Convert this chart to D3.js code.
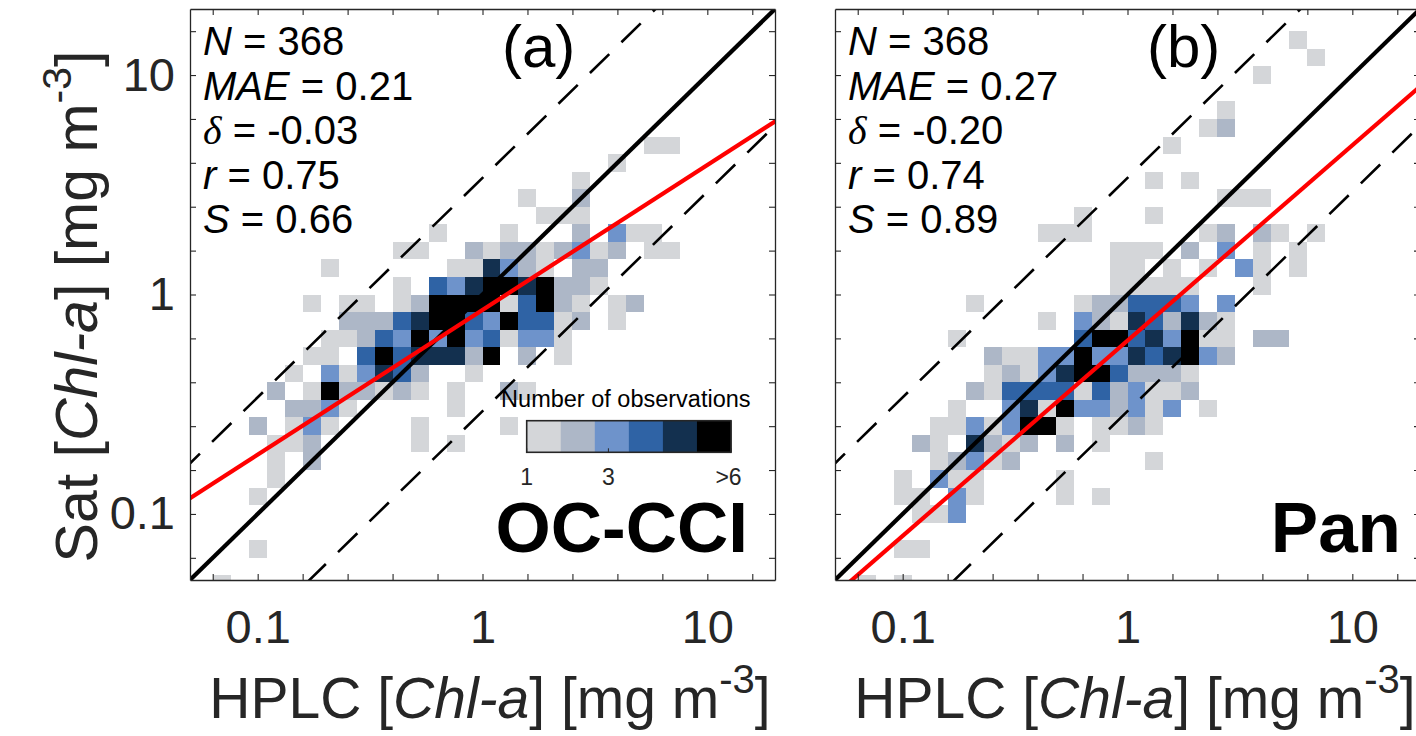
<!DOCTYPE html>
<html><head><meta charset="utf-8">
<script src="https://cdn.jsdelivr.net/npm/d3@7"></script>
<style>
body{margin:0;background:#fff;}
svg{display:block;}
text{font-family:"Liberation Sans",Arial,Helvetica,sans-serif;}
</style>
</head><body>
<svg id="chart" width="1416" height="736"></svg>
<script>
// ---------------- data ----------------
const axisDomain = [0.05, 20];
const binStepLog10 = 0.08;               // histogram bin width in log10 units
const tickExponents = d3.range(-6, 7).map(k => k * 0.2);
const labeledTicks = [0.1, 1, 10];
const levelColors = ["#d4d6d9", "#adb7c7", "#6e93cb", "#2f63a5", "#13304f", "#000000"];
const colorbarTicks = [1, 3, 6];
const colorbarTickLabels = ["1", "3", ">6"];
const panelLetters = ["(a)", "(b)"];
const productNames = ["OC-CCI", "Pan"];
const statN = ["368", "368"];
const statMAE = ["0.21", "0.27"];
const statDelta = ["-0.03", "-0.20"];
const statR = ["0.75", "0.74"];
const statS = ["0.66", "0.89"];
const fitSlope = [0.66, 0.89];
const fitIntercept = [-0.07, -0.21];   // log10 intercept
const dashFactor = 3.4;

// bins: [HPLC bin index, Sat bin index, count level]  (bin k spans 10^(k*0.08) .. 10^((k+1)*0.08))
const ocCells = [
[9,8,1],[10,8,1],[7,7,1],[5,6,1],[2,5,1],[5,5,2],[3,4,1],[4,4,1],[5,4,1],
[-3,3,1],[1,3,1],[5,3,2],[7,3,3],[8,3,1],[9,3,1],
[-5,2,1],[-4,2,1],[-1,2,2],[0,2,1],[1,2,2],[2,2,2],[3,2,1],[4,2,2],[5,2,3],[6,2,1],[7,2,2],[9,2,1],[10,2,1],
[-9,1,1],[-2,1,1],[-1,1,1],[0,1,5],[1,1,3],[2,1,2],[3,1,1],[5,1,2],[6,1,2],
[-5,0,1],[-3,0,4],[-2,0,3],[-1,0,5],[0,0,6],[1,0,6],[2,0,5],[3,0,6],[4,0,2],[5,0,2],[6,0,1],
[-10,-1,1],[-8,-1,1],[-7,-1,1],[-5,-1,1],[-4,-1,2],[-3,-1,6],[-2,-1,6],[-1,-1,6],[0,-1,6],[1,-1,1],[2,-1,4],[3,-1,6],[4,-1,2],[5,-1,1],[7,-1,1],[8,-1,2],
[-8,-2,2],[-7,-2,2],[-6,-2,2],[-5,-2,4],[-4,-2,5],[-3,-2,6],[-2,-2,6],[-1,-2,4],[0,-2,3],[1,-2,6],[2,-2,4],[3,-2,4],[4,-2,1],[5,-2,2],[7,-2,1],
[-9,-3,1],[-8,-3,1],[-7,-3,2],[-6,-3,4],[-5,-3,3],[-4,-3,6],[-3,-3,3],[-2,-3,6],[-1,-3,3],[0,-3,4],[1,-3,1],[2,-3,3],[3,-3,3],[4,-3,1],
[-10,-4,1],[-9,-4,1],[-7,-4,4],[-6,-4,6],[-5,-4,4],[-4,-4,5],[-3,-4,5],[-2,-4,5],[-1,-4,2],[0,-4,6],[2,-4,2],[4,-4,1],
[-11,-5,1],[-9,-5,3],[-8,-5,1],[-7,-5,3],[-6,-5,5],[-5,-5,4],[-4,-5,2],[-1,-5,1],
[-12,-6,2],[-10,-6,1],[-9,-6,6],[-8,-6,2],[-7,-6,2],[-6,-6,1],[-5,-6,2],[-4,-6,1],[-2,-6,1],[1,-6,2],[2,-6,1],
[-11,-7,2],[-10,-7,2],[-9,-7,3],[-8,-7,1],[-2,-7,1],
[-13,-8,2],[-11,-8,1],[-10,-8,3],[-9,-8,1],[-4,-8,1],[1,-8,1],
[-12,-9,1],[-11,-9,1],[-10,-9,2],[-4,-9,1],[-2,-9,1],
[-12,-10,1],[-10,-10,2],[-12,-11,1],[-13,-12,1],[-13,-15,1],[-15,-17,1]
];
const panCells = [
[9,14,1],[10,13,1],[7,12,1],[5,10,1],[4,9,1],[5,9,2],[2,8,1],[1,6,1],[3,6,1],
[5,5,1],[6,5,1],[7,5,1],[-3,4,1],[1,4,1],
[-5,3,1],[-4,3,1],[-3,3,1],[4,3,1],[5,3,2],[7,3,2],[8,3,1],[10,3,1],
[-1,2,1],[0,2,1],[1,2,1],[3,2,2],[5,2,3],[7,2,1],[9,2,1],
[-1,1,1],[0,1,1],[2,1,1],[4,1,1],[6,1,3],[7,1,1],[9,1,1],
[-1,0,1],[0,0,1],[1,0,1],[2,0,1],[3,0,1],[7,0,1],
[-9,-1,1],[-3,-1,1],[-2,-1,2],[-1,-1,2],[0,-1,4],[1,-1,4],[2,-1,4],[3,-1,3],[5,-1,3],
[-5,-2,1],[-3,-2,3],[-2,-2,2],[-1,-2,1],[0,-2,5],[1,-2,4],[2,-2,2],[3,-2,5],[4,-2,2],[5,-2,1],
[-10,-3,1],[-3,-3,4],[-2,-3,6],[-1,-3,6],[0,-3,4],[1,-3,5],[2,-3,3],[3,-3,6],[4,-3,1],[5,-3,1],[7,-3,2],[8,-3,2],
[-8,-4,2],[-7,-4,1],[-6,-4,1],[-5,-4,3],[-4,-4,3],[-3,-4,6],[-2,-4,3],[-1,-4,3],[0,-4,5],[1,-4,4],[2,-4,5],[3,-4,6],[4,-4,3],[5,-4,2],
[-8,-5,1],[-7,-5,2],[-6,-5,1],[-5,-5,3],[-4,-5,5],[-3,-5,6],[-2,-5,6],[-1,-5,4],[0,-5,2],[1,-5,2],[2,-5,2],[3,-5,1],
[-9,-6,2],[-8,-6,1],[-7,-6,4],[-6,-6,4],[-5,-6,4],[-4,-6,4],[-3,-6,1],[-2,-6,4],[-1,-6,2],[0,-6,3],[1,-6,1],[2,-6,1],[3,-6,2],
[-10,-7,1],[-7,-7,3],[-6,-7,5],[-5,-7,1],[-4,-7,6],[-3,-7,3],[-2,-7,3],[-1,-7,2],[0,-7,3],[1,-7,1],[2,-7,3],[4,-7,1],
[-11,-8,1],[-10,-8,1],[-9,-8,3],[-8,-8,1],[-7,-8,3],[-6,-8,6],[-5,-8,6],[-4,-8,1],[-2,-8,1],[-1,-8,1],[0,-8,2],[1,-8,1],
[-12,-9,2],[-11,-9,1],[-9,-9,5],[-8,-9,2],[-7,-9,1],[-6,-9,2],[-4,-9,2],[-2,-9,1],
[-11,-10,1],[-10,-10,2],[-9,-10,3],[-8,-10,1],[-7,-10,2],[1,-10,1],
[-13,-11,1],[-11,-11,3],[-10,-11,1],[-9,-11,1],[-4,-11,1],
[-13,-12,1],[-12,-12,1],[-10,-12,3],[-9,-12,1],[-4,-12,1],[-2,-12,1],
[-12,-13,1],[-11,-13,1],[-10,-13,3],[-13,-15,1],[-12,-15,1],[-15,-17,1],[-13,-17,1]
];
const panelCells = [ocCells, panCells];

// ---------------- layout ----------------
const plotW = 585, plotH = 571, plotTop = 9;
const panelLeft = [190, 835];
const axisColor = "#262626";

const svg = d3.select("#chart");
const x = d3.scaleLog().domain(axisDomain).range([0, plotW]);
const y = d3.scaleLog().domain(axisDomain).range([plotH, 0]);
const binEdge = k => Math.pow(10, k * binStepLog10);
const tickValues = tickExponents.map(e => Math.pow(10, e));
const fmt = v => { const m = labeledTicks.find(t => Math.abs(Math.log10(t) - Math.log10(v)) < 1e-6); return m === undefined ? "" : String(m); };

function unitLabel(sel, lead, supSize, supDy) {
  sel.append("tspan").text(lead + " [");
  sel.append("tspan").attr("font-style", "italic").text("Chl-a");
  sel.append("tspan").text("] [mg m");
  sel.append("tspan").attr("font-size", supSize).attr("dy", -supDy).text("-3");
  sel.append("tspan").attr("dy", supDy).text("]");
}

panelLeft.forEach((left, p) => {
  const g = svg.append("g").attr("transform", `translate(${left},${plotTop})`);
  const clipId = "clip" + p;
  g.append("clipPath").attr("id", clipId).append("rect").attr("width", plotW).attr("height", plotH);
  const plot = g.append("g").attr("clip-path", `url(#${clipId})`);

  // histogram cells
  plot.selectAll("rect.cell").data(panelCells[p]).join("rect")
    .attr("class", "cell")
    .attr("x", d => x(binEdge(d[0])))
    .attr("width", d => x(binEdge(d[0] + 1)) - x(binEdge(d[0])))
    .attr("y", d => y(binEdge(d[1] + 1)))
    .attr("height", d => y(binEdge(d[1])) - y(binEdge(d[1] + 1)))
    .attr("fill", d => levelColors[d[2] - 1])
    .attr("shape-rendering", "crispEdges");

  const line = d3.line().x(d => x(d[0])).y(d => y(d[1]));
  const [a, b] = axisDomain;
  // dashed envelopes
  [dashFactor, 1 / dashFactor].forEach(f => {
    plot.append("path").attr("d", line([[a / 4, a / 4 * f], [b * 4, b * 4 * f]]))
      .attr("fill", "none").attr("stroke", "#000").attr("stroke-width", 2.6)
      .attr("stroke-dasharray", "27,17");
  });
  // 1:1
  plot.append("path").attr("d", line([[a, a], [b, b]]))
    .attr("fill", "none").attr("stroke", "#000").attr("stroke-width", 4.2);
  // regression
  const fit = v => Math.pow(10, fitIntercept[p]) * Math.pow(v, fitSlope[p]);
  plot.append("path").attr("d", line([[a / 2, fit(a / 2)], [b * 2, fit(b * 2)]]))
    .attr("fill", "none").attr("stroke", "#ff0000").attr("stroke-width", 4.2);

  // axes
  const styleAxis = sel => { sel.select(".domain").attr("stroke", axisColor).attr("stroke-width", 1.3);
    sel.selectAll(".tick line").attr("stroke", axisColor).attr("stroke-width", 1.1);
    sel.selectAll(".tick text").attr("fill", axisColor).attr("font-size", 47)
       .attr("font-family", '"Liberation Sans",Arial,sans-serif'); };
  g.append("g").attr("transform", `translate(0,${plotH})`)
    .call(d3.axisBottom(x).tickValues(tickValues).tickFormat(fmt).tickSize(-6).tickSizeOuter(0).tickPadding(30))
    .call(styleAxis);
  g.append("g").call(d3.axisTop(x).tickValues(tickValues).tickFormat(() => null).tickSize(-6).tickSizeOuter(0)).call(styleAxis);
  g.append("g").call(d3.axisLeft(y).tickValues(tickValues).tickFormat(p === 0 ? fmt : () => null).tickSize(-6).tickSizeOuter(0).tickPadding(15))
    .call(styleAxis);
  g.append("g").attr("transform", `translate(${plotW},0)`)
    .call(d3.axisRight(y).tickValues(tickValues).tickFormat(() => null).tickSize(-6).tickSizeOuter(0)).call(styleAxis);
  g.selectAll(".tick text").filter(function(){ return this.textContent === ""; }).remove();

  // stats
  const statsLines = [
    [["N", true], [" = " + statN[p], false]],
    [["MAE", true], [" = " + statMAE[p], false]],
    [["δ", "serif"], [" = " + statDelta[p], false]],
    [["r", true], [" = " + statR[p], false]],
    [["S", true], [" = " + statS[p], false]]
  ];
  statsLines.forEach((parts, k) => {
    const t = g.append("text").attr("x", 13).attr("y", 46 + k * 44.5).attr("font-size", 40).attr("fill", "#000");
    parts.forEach(([s, it]) => {
      const ts = t.append("tspan").text(s);
      if (it === true) ts.attr("font-style", "italic");
      if (it === "serif") ts.attr("font-style", "italic").attr("font-family", '"Liberation Serif","Times New Roman",serif');
    });
  });
  g.append("text").attr("x", 312).attr("y", 58).attr("font-size", 60).attr("fill", "#000").text(panelLetters[p]);

  // product name
  g.append("text").attr("x", p === 0 ? 558 : 566).attr("y", 543).attr("text-anchor", "end")
    .attr("font-size", 71).attr("font-weight", "bold").attr("fill", "#000").text(productNames[p]);

  // axis labels
  const xl = g.append("text").attr("x", plotW / 2 + 7.5).attr("y", 709).attr("text-anchor", "middle")
    .attr("font-size", 57).attr("fill", axisColor);
  unitLabel(xl, "HPLC", 40, 25);

  if (p === 0) {
    const yl = g.append("text").attr("transform", `translate(-93,${plotH / 2 + 12}) rotate(-90)`)
      .attr("text-anchor", "middle").attr("font-size", 59).attr("fill", axisColor);
    unitLabel(yl, "Sat", 41, 26);

    // colorbar
    const cb = d3.scaleLinear().domain([1, 6]).range([336.7, 541]);
    const cbTop = 411.7, cbH = 31.6;
    const segW = (cb.range()[1] - cb.range()[0]) / levelColors.length;
    g.append("g").selectAll("rect").data(levelColors).join("rect")
      .attr("x", (d, k) => cb.range()[0] + k * segW).attr("y", cbTop)
      .attr("width", segW + 0.5).attr("height", cbH).attr("fill", d => d);
    g.append("rect").attr("x", cb.range()[0]).attr("y", cbTop).attr("width", cb.range()[1] - cb.range()[0])
      .attr("height", cbH).attr("fill", "none").attr("stroke", axisColor).attr("stroke-width", 1.6);
    colorbarTicks.forEach((v, k) => {
      g.append("line").attr("x1", cb(v)).attr("x2", cb(v)).attr("y1", cbTop + cbH).attr("y2", cbTop + cbH - 4)
        .attr("stroke", axisColor).attr("stroke-width", 1);
      g.append("text").attr("x", cb(v) - (k === 2 ? 2.5 : 0)).attr("y", 476).attr("text-anchor", "middle")
        .attr("font-size", 23).attr("fill", axisColor).text(colorbarTickLabels[k]);
    });
    g.append("text").attr("x", (cb.range()[0] + cb.range()[1]) / 2 - 3).attr("y", 397.7).attr("text-anchor", "middle")
      .attr("font-size", 23.5).attr("fill", "#000").text("Number of observations");
  }
});
</script>
</body></html>
